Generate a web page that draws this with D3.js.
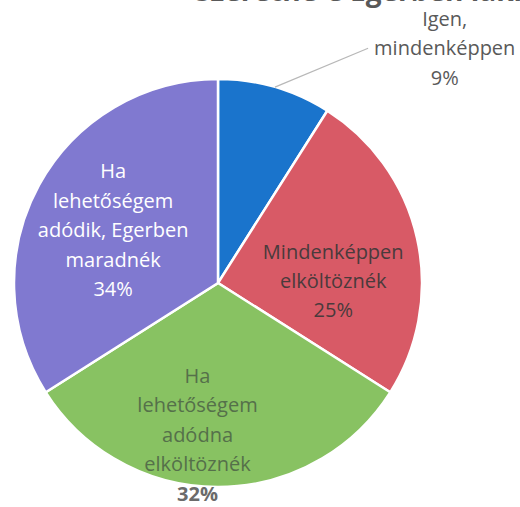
<!DOCTYPE html>
<html>
<head>
<meta charset="utf-8">
<script src="https://cdn.jsdelivr.net/npm/d3@7"></script>
<style>
  body { margin: 0; background: #fff; }
  svg { display: block; }
  text { font-family: "Open Sans", "Noto Sans", sans-serif; }
</style>
</head>
<body>
<div id="chart"></div>
<script>
const title = "Szeretne-e Egerben lakni?";
const categories = ["Igen, mindenképpen", "Mindenképpen elköltöznék", "Ha lehetőségem adódna elköltöznék", "Ha lehetőségem adódik, Egerben maradnék"];
const shares = [9, 25, 32, 34];
const labelLines = [
    ["Igen,", "mindenképpen"],
    ["Mindenképpen", "elköltöznék"],
    ["Ha", "lehetőségem", "adódna", "elköltöznék"],
    ["Ha", "lehetőségem", "adódik, Egerben", "maradnék"]
];
const sliceColors = ["#1a74cc", "#d85a66", "#88c262", "#8079d0"];

let width = 520, height = 507;
let cx = 218, cy = 283, radius = 204;

// label placement: angle offset from slice middle (deg), distance as share of radius, text colour
let labelLayout = [
    {turn: 27.8, dist: 1.6, color: "#595959"},
    {turn: 11.6, dist: 0.565, color: "#4a3a3c"},
    {turn: 7.7, dist: 0.75, color: "#55704a"},
    {turn: -2, dist: 0.576, color: "#ffffff"}
];
let lineHeight = 29.5;

let svg = d3.select("#chart").append("svg")
    .attr("width", width)
    .attr("height", height);

svg.append("rect").attr("width", width).attr("height", height).attr("fill", "#fff");

// title, mostly cut off by the top edge
let titleText = svg.append("text")
    .attr("y", 1)
    .attr("font-size", 28)
    .attr("font-weight", "bold")
    .attr("fill", "#595959")
    .text(title);
let egerIdx = title.indexOf("Egerben");
titleText.attr("x", 350 - titleText.node().getSubStringLength(0, egerIdx));

let pie = d3.pie().sort(null).value(d => d.value);
let data = pie(categories.map((c, i) => ({name: c, value: shares[i], lines: labelLines[i], color: sliceColors[i], layout: labelLayout[i]})));

let arc = d3.arc().innerRadius(0).outerRadius(radius);

let g = svg.append("g").attr("transform", "translate(" + cx + "," + cy + ")");

g.selectAll("path.slice")
    .data(data)
    .enter()
    .append("path")
    .attr("class", "slice")
    .attr("d", arc)
    .attr("fill", d => d.data.color)
    .attr("stroke", "#fff")
    .attr("stroke-width", 2.5);

function polar(angle, dist) {
    return [Math.sin(angle) * dist, -Math.cos(angle) * dist];
}

data.forEach((d, i) => {
    let mid = (d.startAngle + d.endAngle) / 2;
    let lay = d.data.layout;
    let pos = polar(mid + lay.turn * Math.PI / 180, radius * lay.dist);
    let lines = d.data.lines.concat([d.data.value + "%"]);
    let top = pos[1] - (lines.length - 1) * lineHeight / 2;

    let t = g.append("text")
        .attr("text-anchor", "middle")
        .attr("font-size", 20)
        .attr("fill", lay.color);
    lines.forEach((l, j) => {
        t.append("tspan")
            .attr("x", pos[0])
            .attr("y", top + j * lineHeight)
            .attr("dy", "0.35em")
            .attr("font-weight", (i == 2 && j == lines.length - 1) ? "bold" : null)
            .attr("fill", (i == 2 && j == lines.length - 1) ? "#6b6b6b" : null)
            .text(l);
    });

    if (lay.dist > 1) {
        // leader line from slice edge to the outside label
        let start = polar(mid, radius);
        let w = t.selectAll("tspan").nodes()[1].getComputedTextLength();
        g.append("line")
            .attr("x1", start[0])
            .attr("y1", start[1])
            .attr("x2", pos[0] - w / 2 - 6)
            .attr("y2", top + lineHeight)
            .attr("stroke", "#b8b8b8")
            .attr("stroke-width", 1.2);
    }
});
</script>
</body>
</html>
